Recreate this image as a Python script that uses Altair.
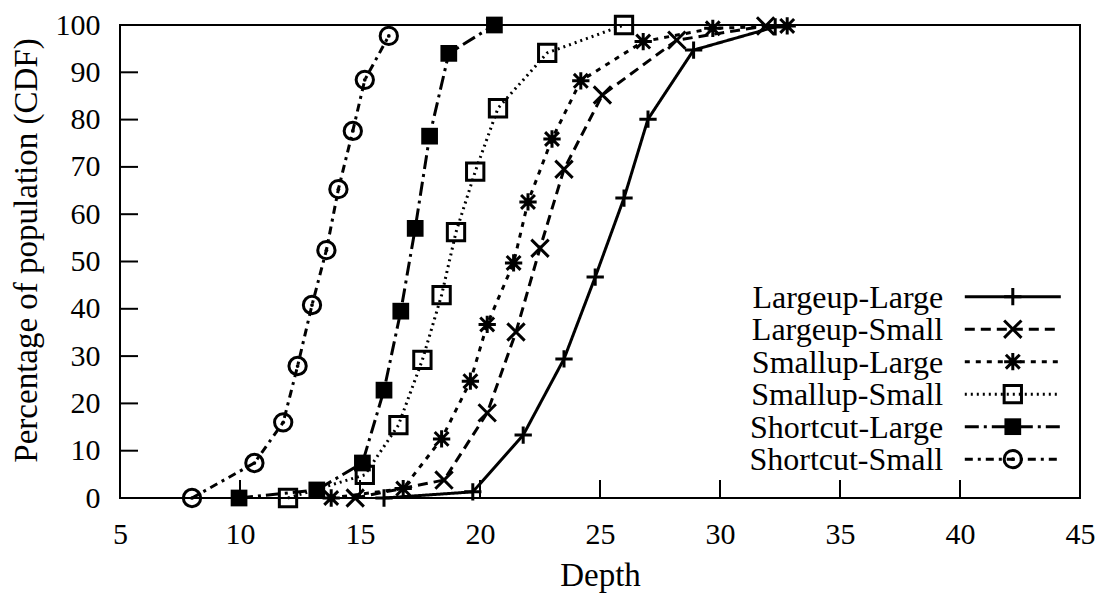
import altair as alt
import pandas as pd

# ---- data ----
series_names = ["Largeup-Large", "Largeup-Small", "Smallup-Large",
                "Smallup-Small", "Shortcut-Large", "Shortcut-Small"]

largeup_large_x = [16.0, 19.7, 21.8, 23.5, 24.8, 26.0, 27.0, 28.9, 32.3]
largeup_large_y = [0.0, 1.3, 13.3, 29.4, 46.7, 63.4, 80.1, 94.7, 99.6]

largeup_small_x = [14.8, 18.5, 20.3, 21.5, 22.5, 23.5, 25.1, 28.2, 31.9]
largeup_small_y = [0.0, 3.8, 18.0, 35.1, 52.8, 69.5, 85.2, 96.8, 99.8]

smallup_large_x = [13.8, 16.8, 18.4, 19.6, 20.3, 21.4, 22.0, 23.0, 24.2, 26.8, 29.7, 32.8]
smallup_large_y = [0.0, 2.0, 12.5, 24.7, 36.7, 49.7, 62.6, 75.9, 88.2, 96.5, 99.3, 99.8]

smallup_small_x = [12.0, 15.2, 16.6, 17.6, 18.4, 19.0, 19.8, 20.75, 22.8, 26.0]
smallup_small_y = [0.0, 4.9, 15.4, 29.2, 42.9, 56.2, 69.0, 82.4, 94.1, 100.0]

shortcut_large_x = [9.96, 13.2, 15.1, 16.0, 16.7, 17.3, 17.9, 18.7, 20.6]
shortcut_large_y = [0.0, 1.7, 7.4, 22.8, 39.5, 57.0, 76.5, 94.0, 100.0]

shortcut_small_x = [8.0, 10.6, 11.8, 12.4, 13.0, 13.6, 14.1, 14.7, 15.2, 16.2]
shortcut_small_y = [0.0, 7.4, 16.0, 27.9, 40.8, 52.4, 65.3, 77.6, 88.4, 97.7]

x_ticks = [5, 10, 15, 20, 25, 30, 35, 40, 45]
y_ticks = [0, 10, 20, 30, 40, 50, 60, 70, 80, 90, 100]

series_x = [largeup_large_x, largeup_small_x, smallup_large_x,
            smallup_small_x, shortcut_large_x, shortcut_small_x]
series_y = [largeup_large_y, largeup_small_y, smallup_large_y,
            smallup_small_y, shortcut_large_y, shortcut_small_y]

# ---- styles ----
FONT = "Liberation Serif"
PLUS = "M-1,0L1,0M0,-1L0,1"
XSHAPE = "M-1,-1L1,1M-1,1L1,-1"
STAR = "M-1,0L1,0M0,-1L0,1M-0.8,-0.8L0.8,0.8M-0.8,0.8L0.8,-0.8"
styles = [
    dict(dash=[1, 0], shape=PLUS, filled=False),
    dict(dash=[10, 6], shape=XSHAPE, filled=False),
    dict(dash=[5, 6], shape=STAR, filled=False),
    dict(dash=[2, 4], shape="square", filled=False),
    dict(dash=[14, 5, 3, 5], shape="square", filled=True),
    dict(dash=[8, 5, 3, 5], shape="circle", filled=False),
]

W, H = 960, 473
xscale = alt.Scale(domain=[5, 45], nice=False, zero=False)
yscale = alt.Scale(domain=[0, 100], nice=False, zero=False)
xaxis = alt.Axis(values=x_ticks, title="Depth", titleX=480, titleY=87,
                 titleFontSize=33,
                 titleBaseline="alphabetic", labelBaseline="alphabetic",
                 labelPadding=45, labelFlush=False, ticks=False, tickSize=0,
                 domain=False, grid=False)
yaxis = alt.Axis(values=y_ticks, title="Percentage of population (CDF)",
                 titleX=-84, titleY=225, titleAngle=-90, titleFontSize=33,
                 titleBaseline="alphabetic", labelPadding=20, labelFlush=False,
                 ticks=False, tickSize=0, domain=False, grid=False)


def X(f):
    return alt.X(f, type="quantitative", scale=xscale, axis=xaxis)


def Y(f):
    return alt.Y(f, type="quantitative", scale=yscale, axis=yaxis)


layers = []

# inward tick marks
xt = pd.DataFrame({"v": x_ticks})
yt = pd.DataFrame({"v": y_ticks})
layers.append(alt.Chart(yt).mark_rule(color="black", strokeWidth=2).encode(
    y=Y("v"), x=alt.value(0), x2=alt.value(18)))
layers.append(alt.Chart(xt).mark_rule(color="black", strokeWidth=2).encode(
    x=X("v"), y=alt.value(H), y2=alt.value(H - 18)))

# legend geometry (data units)
leg_top = 42.56
leg_step = 6.87
leg_x0, leg_x1, leg_xm, leg_xt = 40.2, 44.2, 42.2, 39.3

for i, (name, xs, ys, st) in enumerate(zip(series_names, series_x, series_y, styles)):
    df = pd.DataFrame({"x": xs, "y": ys})
    ly = leg_top - leg_step * i
    ldf = pd.DataFrame({"x": [leg_x0, leg_x1], "y": [ly, ly]})
    mdf = pd.DataFrame({"x": [leg_xm], "y": [ly]})
    tdf = pd.DataFrame({"x": [leg_xt], "y": [ly - 2.33], "t": [name]})

    for d in (df, ldf):
        layers.append(alt.Chart(d).mark_line(
            color="black", strokeWidth=3, strokeDash=st["dash"]).encode(
            x=X("x"), y=Y("y"), order="x:Q"))
    for d in (df, mdf):
        if st["filled"]:
            pm = alt.Chart(d).mark_point(shape=st["shape"], filled=True,
                                         color="black", size=280, opacity=1)
        else:
            pm = alt.Chart(d).mark_point(shape=st["shape"], filled=False,
                                         color="black", size=300,
                                         strokeWidth=3, opacity=1)
        layers.append(pm.encode(x=X("x"), y=Y("y")))
        if st["shape"] == "circle":
            layers.append(alt.Chart(d).mark_point(
                shape="circle", filled=True, color="black", size=14,
                opacity=1).encode(x=X("x"), y=Y("y")))
    layers.append(alt.Chart(tdf).mark_text(
        align="right", baseline="alphabetic", font=FONT, fontSize=32,
        color="black").encode(x=X("x"), y=Y("y"), text="t:N"))

chart = alt.layer(*layers).properties(
    width=W, height=H,
    autosize=alt.AutoSizeParams(type="none"),
    padding={"left": 112, "top": 17, "right": 15, "bottom": 95},
).configure(
    background="white"
).configure_view(
    stroke="black", strokeWidth=2
).configure_axis(
    labelFont=FONT, labelFontSize=30, labelColor="black",
    titleFont=FONT, titleFontSize=33, titleFontWeight="normal",
    titleColor="black", ticks=False, tickSize=0, domain=False, grid=False,
)

chart.save("out.html", embed_options={"renderer": "svg", "actions": False})
